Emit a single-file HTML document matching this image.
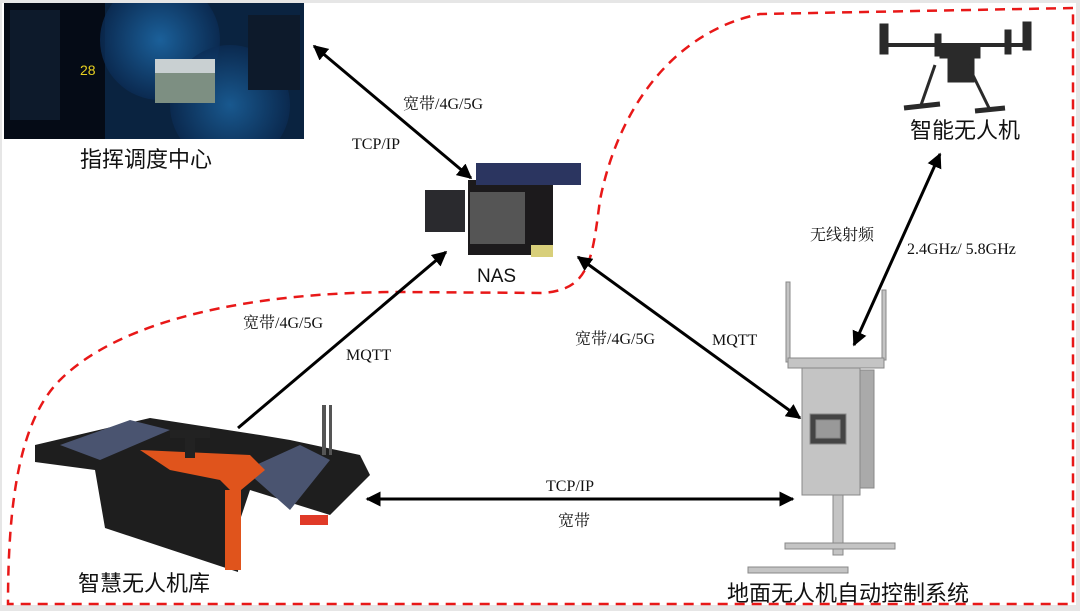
<!DOCTYPE html>
<html><head><meta charset="utf-8"><style>
html,body{margin:0;padding:0;background:#fff}
svg{display:block}
text{font-family:"Liberation Serif","Noto Serif CJK SC",serif;fill:#111}
.s{font-family:"Liberation Sans","Noto Sans CJK SC",sans-serif}
</style></head><body>
<svg width="1080" height="611" viewBox="0 0 1080 611" xmlns="http://www.w3.org/2000/svg">
<defs>
<marker id="a" viewBox="0 0 10 10" refX="9" refY="5" markerWidth="5" markerHeight="5" orient="auto-start-reverse"><path d="M0,0 L10,5 L0,10 z" fill="#000"/></marker>
<radialGradient id="bl" cx="0.5" cy="0.5" r="0.5"><stop offset="0" stop-color="#1f6fb0"/><stop offset="1" stop-color="#0b2c55"/></radialGradient>
<clipPath id="cc"><rect x="4" y="3" width="300" height="136"/></clipPath>
</defs>
<rect x="0" y="0" width="1080" height="611" fill="#e6e6e6"/>
<rect x="2" y="3" width="1074" height="602" fill="#fff"/>
<path d="M1073,8 L760,14 C680,30 620,100 600,200 C592,260 590,290 542,293 L400,292 C250,292 120,320 60,380 C20,420 8,500 8,604 L1073,604 Z" fill="none" stroke="#e81818" stroke-width="2.5" stroke-dasharray="10,7"/>
<g clip-path="url(#cc)">
<rect x="4" y="3" width="300" height="136" fill="#050b16"/>
<rect x="105" y="3" width="199" height="136" fill="#0a2340"/>
<circle cx="160" cy="40" r="60" fill="url(#bl)" opacity="0.8"/>
<circle cx="230" cy="105" r="60" fill="url(#bl)" opacity="0.7"/>
<rect x="155" y="59" width="60" height="44" fill="#7d8f82"/>
<rect x="155" y="59" width="60" height="14" fill="#c9d0d2"/>
<rect x="10" y="10" width="50" height="110" fill="#0d1a2b"/>
<rect x="248" y="15" width="52" height="75" fill="#0d1a2b"/>
<text x="80" y="75" font-size="14" fill="#e8d020" class="s" style="fill:#e8d020">28</text>
</g>
<rect x="425" y="190" width="40" height="42" fill="#2a2a2e"/>
<rect x="468" y="180" width="85" height="75" fill="#1c1a1c"/>
<rect x="476" y="163" width="105" height="22" fill="#2b3560"/>
<rect x="470" y="192" width="55" height="52" fill="#555"/>
<rect x="531" y="245" width="22" height="12" fill="#d8cf7a"/>
<g fill="#2a2a2a" stroke="#2a2a2a">
<rect x="880" y="24" width="8" height="30"/><rect x="1023" y="22" width="8" height="28"/>
<rect x="935" y="34" width="6" height="22"/><rect x="1005" y="30" width="6" height="24"/>
<line x1="884" y1="45" x2="1027" y2="45" stroke-width="4"/>
<rect x="940" y="44" width="40" height="14"/><rect x="948" y="58" width="26" height="24"/>
<line x1="935" y1="65" x2="920" y2="108" stroke-width="3"/><line x1="968" y1="65" x2="990" y2="110" stroke-width="3"/>
<line x1="904" y1="108" x2="940" y2="104" stroke-width="5"/><line x1="975" y1="111" x2="1005" y2="108" stroke-width="5"/>
</g>
<path d="M35,445 L150,418 L260,435 L290,440 L360,455 L370,475 L330,515 L250,490 L240,520 L238,572 L105,528 L95,470 L35,462 Z" fill="#1e1e1e"/>
<path d="M60,445 L130,420 L170,430 L100,460 Z" fill="#4a5470"/>
<path d="M245,470 L300,445 L330,460 L290,510 Z" fill="#4a5470"/>
<path d="M140,450 L250,455 L265,470 L235,495 L220,480 L170,470 Z" fill="#e0541c"/>
<rect x="225" y="490" width="16" height="80" fill="#e0541c"/>
<rect x="300" y="515" width="28" height="10" fill="#e03a28"/>
<rect x="322" y="405" width="4" height="50" fill="#555"/><rect x="329" y="405" width="3" height="50" fill="#555"/>
<g fill="#222"><rect x="170" y="430" width="40" height="8"/><rect x="185" y="438" width="10" height="20"/></g>
<g stroke="#888" fill="#c4c4c4">
<rect x="786" y="282" width="4" height="80"/><rect x="882" y="290" width="4" height="70"/>
<rect x="788" y="358" width="96" height="10"/>
<rect x="802" y="368" width="58" height="127"/>
<rect x="860" y="370" width="14" height="118" fill="#aaa"/>
<rect x="810" y="414" width="36" height="30" fill="#444"/><rect x="816" y="420" width="24" height="18" fill="#999"/>
<rect x="833" y="495" width="10" height="60"/>
<rect x="785" y="543" width="110" height="6"/><rect x="748" y="567" width="100" height="6"/>
</g>
<g stroke="#000" stroke-width="3" fill="none">
<line x1="314" y1="46" x2="471" y2="178" marker-start="url(#a)" marker-end="url(#a)"/>
<line x1="238" y1="428" x2="446" y2="252" marker-end="url(#a)"/>
<line x1="578" y1="257" x2="800" y2="418" marker-start="url(#a)" marker-end="url(#a)"/>
<line x1="940" y1="154" x2="854" y2="345" marker-start="url(#a)" marker-end="url(#a)"/>
<line x1="367" y1="499" x2="793" y2="499" marker-start="url(#a)" marker-end="url(#a)"/>
</g>
<text x="403" y="109" font-size="16">宽带/4G/5G</text>
<text x="352" y="149" font-size="16">TCP/IP</text>
<text x="477" y="282" font-size="19" class="s">NAS</text>
<text x="243" y="328" font-size="16">宽带/4G/5G</text>
<text x="346" y="360" font-size="16">MQTT</text>
<text x="575" y="344" font-size="16">宽带/4G/5G</text>
<text x="712" y="345" font-size="16">MQTT</text>
<text x="810" y="240" font-size="16">无线射频</text>
<text x="907" y="254" font-size="16">2.4GHz/ 5.8GHz</text>
<text x="546" y="491" font-size="16">TCP/IP</text>
<text x="558" y="526" font-size="16">宽带</text>
<text x="80" y="167" font-size="22" class="s">指挥调度中心</text>
<text x="910" y="138" font-size="22" class="s">智能无人机</text>
<text x="78" y="591" font-size="22" class="s">智慧无人机库</text>
<text x="727" y="601" font-size="22" class="s">地面无人机自动控制系统</text>
</svg>
</body></html>
